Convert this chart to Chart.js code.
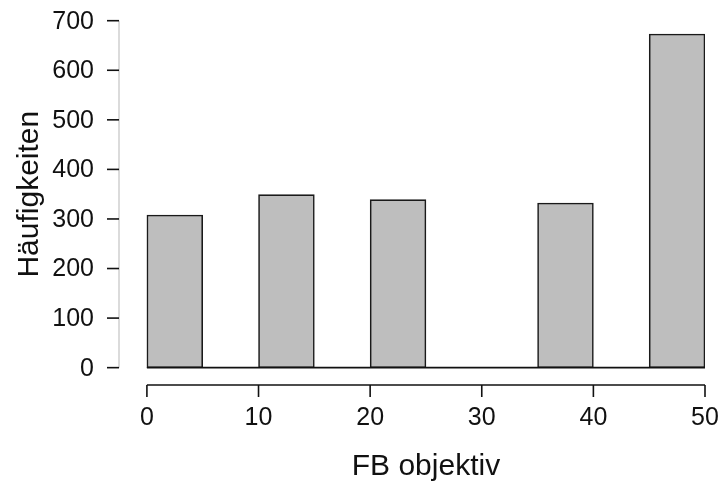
<!DOCTYPE html>
<html>
<head>
<meta charset="utf-8">
<script src="https://cdn.jsdelivr.net/npm/chart.js@4/dist/chart.umd.min.js"></script>
<style>
  html, body { margin: 0; padding: 0; background: #ffffff; }
  canvas { display: block; }
</style>
</head>
<body>
<canvas id="hist" width="722" height="486"></canvas>
<script>
// Histogram of "FB objektiv": bin starts (width 5) and counts per bin
const binStart = [0, 5, 10, 15, 20, 25, 30, 35, 40, 45];
const binWidth = 5;
const counts   = [308, 0, 349, 0, 339, 0, 0, 332, 0, 673];

// Axis tick values and titles
const xTicks = [0, 10, 20, 30, 40, 50];
const yTicks = [0, 100, 200, 300, 400, 500, 600, 700];
const xTitle = 'FB objektiv';
const yTitle = 'Häufigkeiten';

const FONT = '"Liberation Sans", Arial, Helvetica, sans-serif';

const barPoints = binStart.map((s, i) => ({ x: s + binWidth / 2, y: counts[i] }));

// Draws R-style detached axes, the zero baseline and the axis titles
const baseAxes = {
  id: 'baseAxes',
  afterDatasetsDraw(chart) {
    const ctx = chart.ctx;
    const xs = chart.scales.x, ys = chart.scales.y;
    const area = chart.chartArea;
    ctx.save();

    // baseline of the histogram (empty bins show as a flat line)
    const bx0 = xs.getPixelForValue(binStart[0]);
    const bx1 = xs.getPixelForValue(binStart[binStart.length - 1] + binWidth);
    const by = ys.getPixelForValue(0);
    ctx.strokeStyle = '#111111';
    ctx.lineWidth = 1.6;
    ctx.beginPath();
    ctx.moveTo(bx0, by);
    ctx.lineTo(bx1, by);
    ctx.stroke();

    // y axis
    const ax = area.left;
    const yTop = ys.getPixelForValue(yTicks[yTicks.length - 1]);
    const yBot = ys.getPixelForValue(yTicks[0]);
    ctx.strokeStyle = '#cfcfcf';
    ctx.lineWidth = 1.5;
    ctx.beginPath();
    ctx.moveTo(ax, yTop);
    ctx.lineTo(ax, yBot);
    ctx.stroke();
    ctx.strokeStyle = '#111111';
    ctx.lineWidth = 1.6;
    ctx.fillStyle = '#111111';
    ctx.font = '25px ' + FONT;
    ctx.textAlign = 'right';
    ctx.textBaseline = 'middle';
    yTicks.forEach(v => {
      const py = ys.getPixelForValue(v);
      ctx.beginPath();
      ctx.moveTo(ax - 12, py);
      ctx.lineTo(ax, py);
      ctx.stroke();
      ctx.fillText(String(v), ax - 25, py + 1);
    });

    // x axis
    const ay = area.bottom;
    const xL = xs.getPixelForValue(xTicks[0]);
    const xR = xs.getPixelForValue(xTicks[xTicks.length - 1]);
    ctx.beginPath();
    ctx.moveTo(xL, ay);
    ctx.lineTo(xR, ay);
    ctx.stroke();
    ctx.textAlign = 'center';
    ctx.textBaseline = 'middle';
    xTicks.forEach(v => {
      const px = xs.getPixelForValue(v);
      ctx.beginPath();
      ctx.moveTo(px, ay);
      ctx.lineTo(px, ay + 12);
      ctx.stroke();
      ctx.fillText(String(v), px, ay + 33);
    });

    // titles
    ctx.font = '30px ' + FONT;
    ctx.fillText(xTitle, (xL + xR) / 2, ay + 82);
    ctx.save();
    ctx.translate(30, (yTop + yBot) / 2);
    ctx.rotate(-Math.PI / 2);
    ctx.fillText(yTitle, 0, 0);
    ctx.restore();

    ctx.restore();
  }
};

new Chart(document.getElementById('hist'), {
  type: 'bar',
  data: {
    datasets: [{
      data: barPoints,
      backgroundColor: '#bebebe',
      borderColor: '#1a1a1a',
      borderWidth: 1.6,
      borderSkipped: false,
      barPercentage: 1,
      categoryPercentage: 1
    }]
  },
  options: {
    responsive: false,
    devicePixelRatio: 1,
    animation: false,
    layout: { padding: { left: 119, right: 17, top: 20.7, bottom: 101 } },
    plugins: { legend: { display: false }, tooltip: { enabled: false } },
    scales: {
      x: { type: 'linear', min: -2.5, max: 50, offset: false, display: false },
      y: { min: -35, max: 700, display: false }
    }
  },
  plugins: [baseAxes]
});
</script>
</body>
</html>
